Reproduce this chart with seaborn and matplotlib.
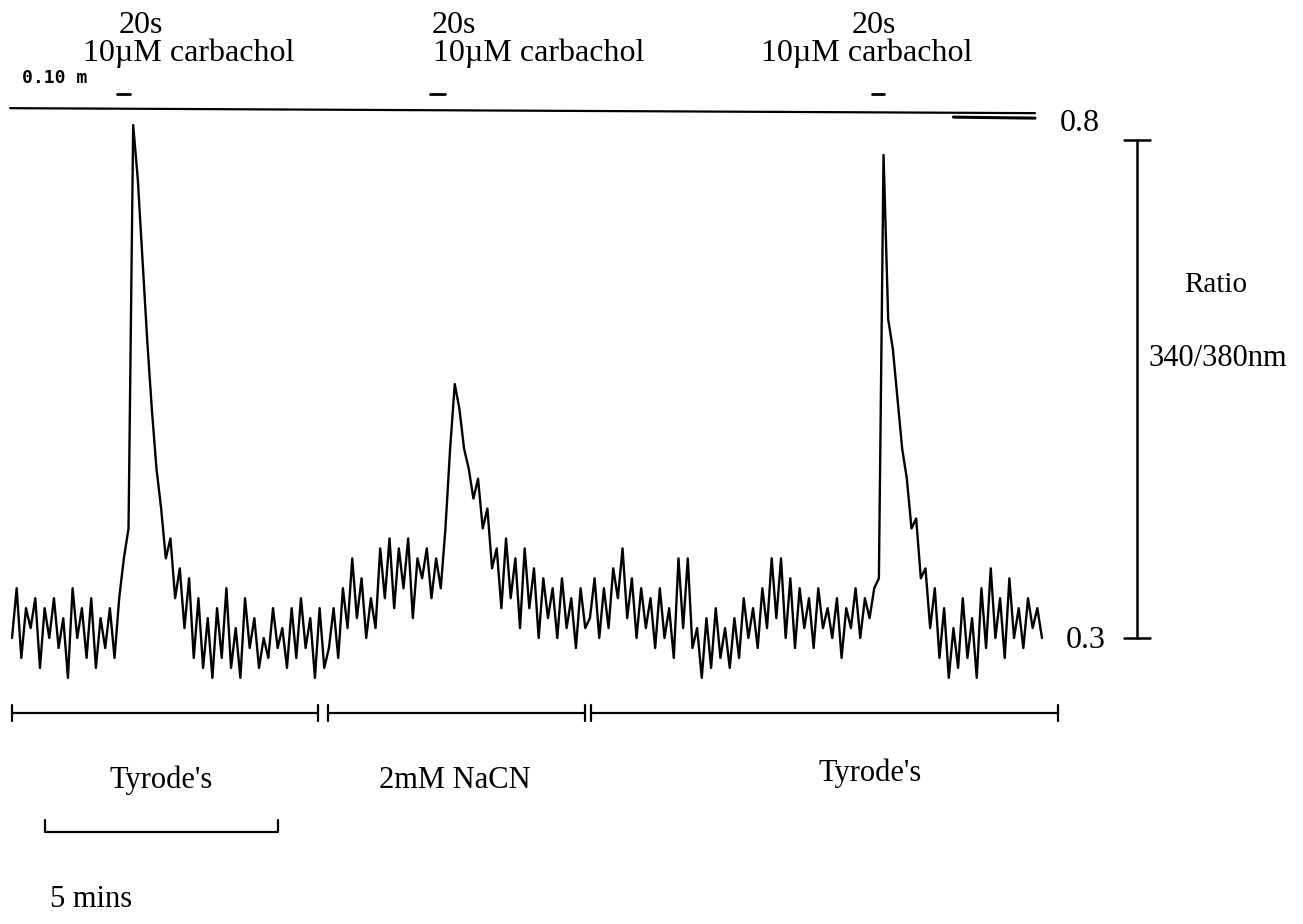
"""
Fura-2 340/380 ratio trace: carbachol pulses in Tyrode's vs 2mM NaCN.
Saves out.png
"""

import numpy as np
import matplotlib
matplotlib.use("Agg")
import matplotlib.pyplot as plt
import seaborn as sns

# ── data ────────────────────────────────────────────────────────────────────
SAMPLE_MIN = 0.1          # one ratio reading every 6 s

# Tyrode's, first carbachol pulse (t = 0.0 .. 6.7 min)
ratio_tyrode_1 = [
    0.30, 0.35, 0.28, 0.33, 0.31, 0.34, 0.27, 0.33, 0.30, 0.34,
    0.29, 0.32, 0.26, 0.35, 0.30, 0.33, 0.28, 0.34, 0.27, 0.32,
    0.29, 0.33, 0.28,
    0.34, 0.38, 0.41, 0.815, 0.76, 0.68, 0.60, 0.53, 0.47, 0.43,
    0.38, 0.40, 0.34, 0.37,
    0.31, 0.36, 0.28, 0.34, 0.27, 0.32, 0.26, 0.33, 0.28, 0.35,
    0.27, 0.31, 0.26, 0.34, 0.29, 0.32, 0.27, 0.30, 0.28, 0.33,
    0.29, 0.31, 0.27, 0.33, 0.28, 0.34, 0.29, 0.32, 0.26, 0.33,
    0.27,
]
# 2mM NaCN, second pulse (t = 6.8 .. 12.3 min)
ratio_nacn = [
    0.29, 0.33, 0.28, 0.35, 0.31, 0.38, 0.32, 0.36, 0.30, 0.34,
    0.31, 0.39, 0.34, 0.40, 0.33, 0.39, 0.35, 0.40, 0.32, 0.38,
    0.36, 0.39, 0.34, 0.38, 0.35, 0.41, 0.49, 0.555, 0.53, 0.49,
    0.47, 0.44, 0.46, 0.41, 0.43, 0.37, 0.39, 0.33, 0.40, 0.34,
    0.38, 0.31, 0.39, 0.33, 0.37, 0.30, 0.36, 0.32, 0.35, 0.30,
    0.36, 0.31, 0.34, 0.29, 0.35, 0.31,
]
# back to Tyrode's, third pulse (t = 12.4 .. 22.1 min)
ratio_tyrode_2 = [
    0.32, 0.36, 0.30, 0.35, 0.31, 0.37, 0.34, 0.39, 0.32, 0.36,
    0.30, 0.35, 0.31, 0.34, 0.29, 0.35, 0.30, 0.33, 0.28, 0.38,
    0.31, 0.38, 0.29, 0.31, 0.26, 0.32, 0.27, 0.33, 0.28, 0.31,
    0.27, 0.32, 0.28, 0.34, 0.30, 0.33, 0.29, 0.35, 0.31, 0.38,
    0.32, 0.38, 0.30, 0.36, 0.29, 0.35, 0.31, 0.34, 0.29, 0.35,
    0.31, 0.33, 0.30, 0.34, 0.28, 0.33, 0.31, 0.35, 0.30, 0.34,
    0.32, 0.35,
    0.36, 0.785, 0.62, 0.59, 0.54, 0.49, 0.46, 0.41, 0.42, 0.36,
    0.37, 0.31,
    0.35, 0.28, 0.33, 0.26, 0.31, 0.27, 0.34, 0.28, 0.32, 0.26,
    0.35, 0.29, 0.37, 0.30, 0.34, 0.28, 0.36, 0.30, 0.33, 0.29,
    0.34, 0.31, 0.33, 0.30,
]

ratio = np.array(ratio_tyrode_1 + ratio_nacn + ratio_tyrode_2)
time_min = np.arange(len(ratio)) * SAMPLE_MIN

solutions = ["Tyrode's", "2mM NaCN", "Tyrode's"]
sol_start = [0.0, 6.78, 12.42]
sol_end   = [6.57, 12.30, 22.45]

pulse_start = [2.25, 8.97, 18.45]
pulse_end   = [2.53, 9.29, 18.71]
PULSE_DRUG  = "10µM carbachol"
PULSE_LEN   = "20s"

RATIO_LO, RATIO_HI = 0.3, 0.8
TIME_BAR = 5              # mins

# ── figure ──────────────────────────────────────────────────────────────────
sns.set_theme(style="white")
plt.rcParams["font.family"] = ["Liberation Serif", "DejaVu Serif"]
plt.rcParams["text.color"] = "black"

fig = plt.figure(figsize=(13.03, 9.24), dpi=100)
ax = fig.add_axes([0, 0, 1, 1])
ax.set_xlim(-0.2575, 27.70)
ax.set_ylim(0.0129, 0.9406)
ax.axis("off")

INK = "black"
FS = 23

# trace
sns.lineplot(x=time_min, y=ratio, color=INK, linewidth=1.7,
             estimator=None, sort=False, ax=ax)

# chart-recorder baseline across the top + event marker label
ax.plot([-0.04, 21.95], [0.832, 0.827], color=INK, lw=1.6)
ax.plot([20.2, 21.95], [0.823, 0.822], color=INK, lw=2.2)
ax.text(0.21, 0.862, "0.10 m", family="DejaVu Sans Mono", weight="bold",
        fontsize=13, ha="left", va="center", color=INK)

# carbachol pulses
for s, e in zip(pulse_start, pulse_end):
    ax.plot([s, e], [0.846, 0.846], color=INK, lw=2)
label_x = [(2.77, 3.80), (9.48, 11.31), (18.50, 18.33)]
for (x20, xdrug) in label_x:
    ax.text(x20, 0.915, PULSE_LEN, fontsize=FS, ha="center", va="center")
    ax.text(xdrug, 0.887, PULSE_DRUG, fontsize=FS, ha="center", va="center")

# solution bars
bar_y = 0.2247
for name, s, e in zip(solutions, sol_start, sol_end):
    ax.plot([s, e], [bar_y, bar_y], color=INK, lw=1.6)
    for xx in (s, e):
        ax.plot([xx, xx], [bar_y - 0.008, bar_y + 0.008], color=INK, lw=1.6)
sol_text_y = [0.1574, 0.1574, 0.1645]
sol_text_x = [3.20, 9.51, 18.41]
for name, xx, yy in zip(solutions, sol_text_x, sol_text_y):
    ax.text(xx, yy, name, fontsize=FS - 1, ha="center", va="center")

# time scale bar
tb0 = 0.708
ax.plot([tb0, tb0, tb0 + TIME_BAR, tb0 + TIME_BAR],
        [0.117, 0.105, 0.105, 0.117], color=INK, lw=1.6)
ax.text(1.70, 0.037, f"{TIME_BAR} mins", fontsize=FS - 1,
        ha="center", va="center")

# ratio scale bar
sx = 24.14
ax.plot([sx, sx], [RATIO_LO, RATIO_HI], color=INK, lw=1.8)
for yy in (RATIO_LO, RATIO_HI):
    ax.plot([sx - 0.27, sx + 0.27], [yy, yy], color=INK, lw=1.8)
ax.text(22.92, 0.817, f"{RATIO_HI}", fontsize=FS, ha="center", va="center")
ax.text(23.03, 0.298, f"{RATIO_LO}", fontsize=FS, ha="center", va="center")
ax.text(25.82, 0.654, "Ratio", fontsize=FS - 2, ha="center", va="center")
ax.text(25.88, 0.581, "340/380nm", fontsize=FS - 1, ha="center", va="center")

fig.savefig("out.png", dpi=100, facecolor="white")
plt.close(fig)
